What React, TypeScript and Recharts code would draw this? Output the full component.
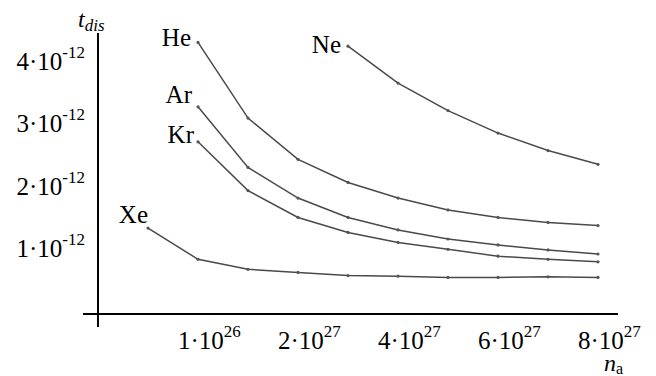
import React from 'react';
import { LineChart, Line, XAxis, YAxis, ReferenceLine, LabelList } from 'recharts';

// x positions (equally spaced slots along the n_a axis)
const xSlots = [0, 1, 2, 3, 4, 5, 6, 7, 8, 9];
const xTickSlots = [1, 3, 5, 7, 9];
const xTickMantissa = ['1', '2', '4', '6', '8'];
const xTickExponent = ['26', '27', '27', '27', '27'];

const yTickValues = [1, 2, 3, 4];
const yTickExponent = '-12';

// t_dis in units of 1e-12
const heValues = [null, 4.31, 3.1, 2.44, 2.07, 1.82, 1.63, 1.51, 1.43, 1.38];
const neValues = [null, null, null, null, 4.25, 3.66, 3.22, 2.86, 2.58, 2.36];
const arValues = [null, 3.28, 2.31, 1.82, 1.51, 1.31, 1.165, 1.07, 0.99, 0.925];
const krValues = [null, 2.72, 1.94, 1.51, 1.27, 1.11, 1.0, 0.89, 0.84, 0.8];
const xeValues = [1.34, 0.84, 0.68, 0.63, 0.58, 0.57, 0.55, 0.55, 0.56, 0.55];

const seriesNames = ['He', 'Ne', 'Ar', 'Kr', 'Xe'];
const seriesValues = [heValues, neValues, arValues, krValues, xeValues];

const rows = xSlots.map((x, i) => {
  const row: Record<string, number | null> = { x };
  seriesNames.forEach((n, k) => {
    row[n] = seriesValues[k][i];
  });
  return row;
});

const FONT = "'Liberation Serif', 'Times New Roman', Times, serif";
const TXT = { fontFamily: FONT };
const LINE_COLOR = '#4a4a4a';

// label offsets relative to first point: [dx (text end), dy (baseline)]
const labelOffsets: Record<string, [number, number]> = {
  He: [-7, 4],
  Ne: [-7, 7],
  Ar: [-6, -4],
  Kr: [-4, 1],
  Xe: [0, -5],
};

const XTick = (props: any) => {
  const { x, y, payload } = props;
  const i = xTickSlots.indexOf(payload.value);
  if (i < 0) return null;
  return (
    <text x={x - 20} y={y + 22} style={TXT} fontSize={25} fill="#000">
      <tspan>{xTickMantissa[i]}·10</tspan>
      <tspan dy={-12} fontSize={17}>{xTickExponent[i]}</tspan>
    </text>
  );
};

const YTick = (props: any) => {
  const { x, y, payload } = props;
  return (
    <text x={x + 2} y={y + 8} style={TXT} fontSize={25} fill="#000" textAnchor="end">
      <tspan>{payload.value}·10</tspan>
      <tspan dy={-12} fontSize={17}>{yTickExponent}</tspan>
    </text>
  );
};

const firstIndex = (vals: (number | null)[]) => vals.findIndex((v) => v !== null);

const makeNameLabel = (name: string, vals: (number | null)[]) => (p: any) => {
  if (p.index !== firstIndex(vals) || p.x == null || p.y == null) return null;
  const [dx, dy] = labelOffsets[name];
  return (
    <text x={p.x + dx} y={p.y + dy} textAnchor="end" style={TXT} fontSize={25} fill="#000">
      {name}
    </text>
  );
};

const XAxisTitle = (p: any) => {
  const vb = p.viewBox;
  return (
    <text x={vb.x + vb.width - 14} y={vb.y + 44} style={TXT} fill="#000">
      <tspan fontSize={24} fontStyle="italic">n</tspan>
      <tspan fontSize={16} dy={3}>a</tspan>
    </text>
  );
};

const YAxisTitle = (p: any) => {
  const vb = p.viewBox;
  return (
    <text x={78} y={vb.y - 6} style={TXT} fill="#000" fontStyle="italic">
      <tspan fontSize={24}>t</tspan>
      <tspan fontSize={17} dy={4}>dis</tspan>
    </text>
  );
};

export default function App() {
  return (
    <div style={{ position: 'absolute', left: 0, top: 0, background: '#fff' }}>
      <LineChart width={656} height={376} data={rows} margin={{ top: 33, right: 38, bottom: 0, left: 0 }}>
        <XAxis
          type="number"
          dataKey="x"
          domain={[-1.3, 9.4]}
          ticks={xTickSlots}
          allowDataOverflow
          axisLine={false}
          tickLine={false}
          tickSize={0}
          tickMargin={0}
          height={49}
          tick={<XTick />}
          interval={0}
          label={XAxisTitle}
        />
        <YAxis
          type="number"
          domain={[-0.243, 4.461]}
          ticks={yTickValues}
          allowDataOverflow
          axisLine={false}
          tickLine={false}
          tickSize={0}
          tickMargin={0}
          width={83}
          tick={<YTick />}
          interval={0}
          label={YAxisTitle}
        />
        <ReferenceLine y={-0.035} stroke="#000" strokeWidth={2} />
        <ReferenceLine x={-1} stroke="#000" strokeWidth={2} />
        {seriesNames.map((name, k) => (
          <Line
            key={name}
            type="linear"
            dataKey={name}
            stroke={LINE_COLOR}
            strokeWidth={1.5}
            dot={{ r: 1.6, fill: '#555', stroke: 'none' }}
            activeDot={false}
            isAnimationActive={false}
          >
            <LabelList dataKey={name} content={makeNameLabel(name, seriesValues[k])} />
          </Line>
        ))}
      </LineChart>
    </div>
  );
}
